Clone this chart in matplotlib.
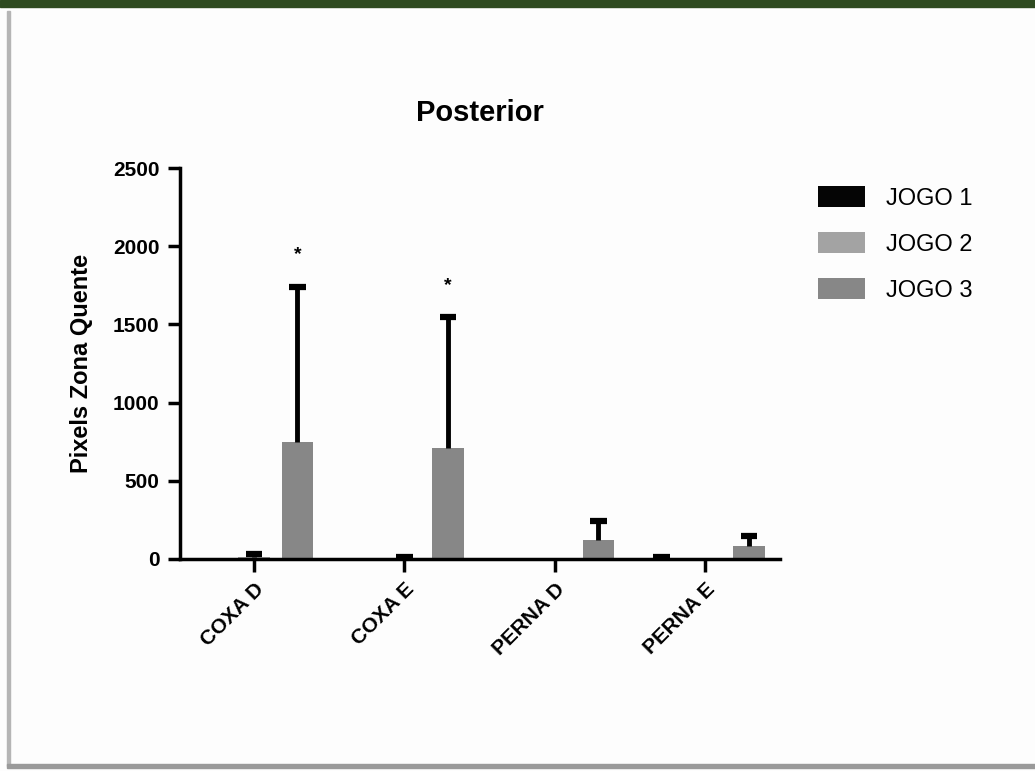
import matplotlib.pyplot as plt
import numpy as np
from matplotlib.patches import Rectangle

categories = ["COXA D", "COXA E", "PERNA D", "PERNA E"]
series = ["JOGO 1", "JOGO 2", "JOGO 3"]
means = {
    "JOGO 1": [0, 0, 0, 8],
    "JOGO 2": [15, 5, 0, 0],
    "JOGO 3": [745, 710, 120, 85],
}
errs = {
    "JOGO 1": [0, 0, 0, 3],
    "JOGO 2": [20, 10, 0, 0],
    "JOGO 3": [995, 835, 120, 60],
}
colors = {"JOGO 1": "#050505", "JOGO 2": "#a3a3a3", "JOGO 3": "#878787"}
stars_y = [1945, 1750]  # above JOGO 3 for COXA D / COXA E

plt.rcParams["font.family"] = ["Liberation Sans", "DejaVu Sans"]

fig = plt.figure(figsize=(10.35, 7.71), dpi=100, facecolor="#fdfdfd")
ax = fig.add_axes([0.174, 0.275, 0.580, 0.507])
ax.set_facecolor("#fdfdfd")

x = np.arange(len(categories))
width = 0.21
offsets = [-0.29, 0.0, 0.29]
cap = 0.055
for s, off in zip(series, offsets):
    xs = x + off
    m = np.array(means[s])
    up = np.array(errs[s])
    ax.bar(xs, m, width, color=colors[s], label=s, zorder=2)
    # upper-only error bars, as in the original
    k = up > 0
    ax.vlines(xs[k], m[k], (m + up)[k], color="black", lw=3.5, zorder=3)
    ax.hlines((m + up)[k], xs[k] - cap, xs[k] + cap, color="black", lw=4.5, zorder=3)

for i, sy in enumerate(stars_y):
    ax.text(x[i] + offsets[2], sy, "*", ha="center", va="center",
            fontsize=14, fontweight="bold")

ax.set_xlim(-0.49, 3.5)
ax.set_ylim(0, 2500)
ax.set_yticks([0, 500, 1000, 1500, 2000, 2500])
ax.set_xticks(x)
ax.set_xticklabels(categories, rotation=45, ha="right", rotation_mode="anchor",
                   fontsize=15, fontweight="bold")
for lab in ax.get_yticklabels():
    lab.set_fontweight("bold")
    lab.set_fontsize(15)
for sp in ["top", "right"]:
    ax.spines[sp].set_visible(False)
for sp in ["left", "bottom"]:
    ax.spines[sp].set_linewidth(2.5)
ax.tick_params(axis="both", width=2.5, length=9, direction="out", pad=6)
ax.set_ylabel("Pixels Zona Quente", fontsize=17, fontweight="bold", labelpad=14)
ax.set_title("Posterior", fontsize=21, fontweight="bold", pad=34)

ax.legend(loc="upper left", bbox_to_anchor=(1.027, 1.008), frameon=False,
          fontsize=17, handlelength=2.0, handleheight=1.0, labelspacing=0.95,
          handletextpad=0.9)

# frame decoration
fig.patches.append(Rectangle((0, 0.991), 1, 0.009, transform=fig.transFigure,
                             color="#2e4a20", zorder=0))
fig.patches.append(Rectangle((0.007, 0.006), 0.003, 0.98, transform=fig.transFigure,
                             color="#b5b5b5", zorder=0))
fig.patches.append(Rectangle((0.007, 0.004), 0.993, 0.005, transform=fig.transFigure,
                             color="#9a9a9a", zorder=0))

fig.savefig("out.png", dpi=100, facecolor=fig.get_facecolor())
